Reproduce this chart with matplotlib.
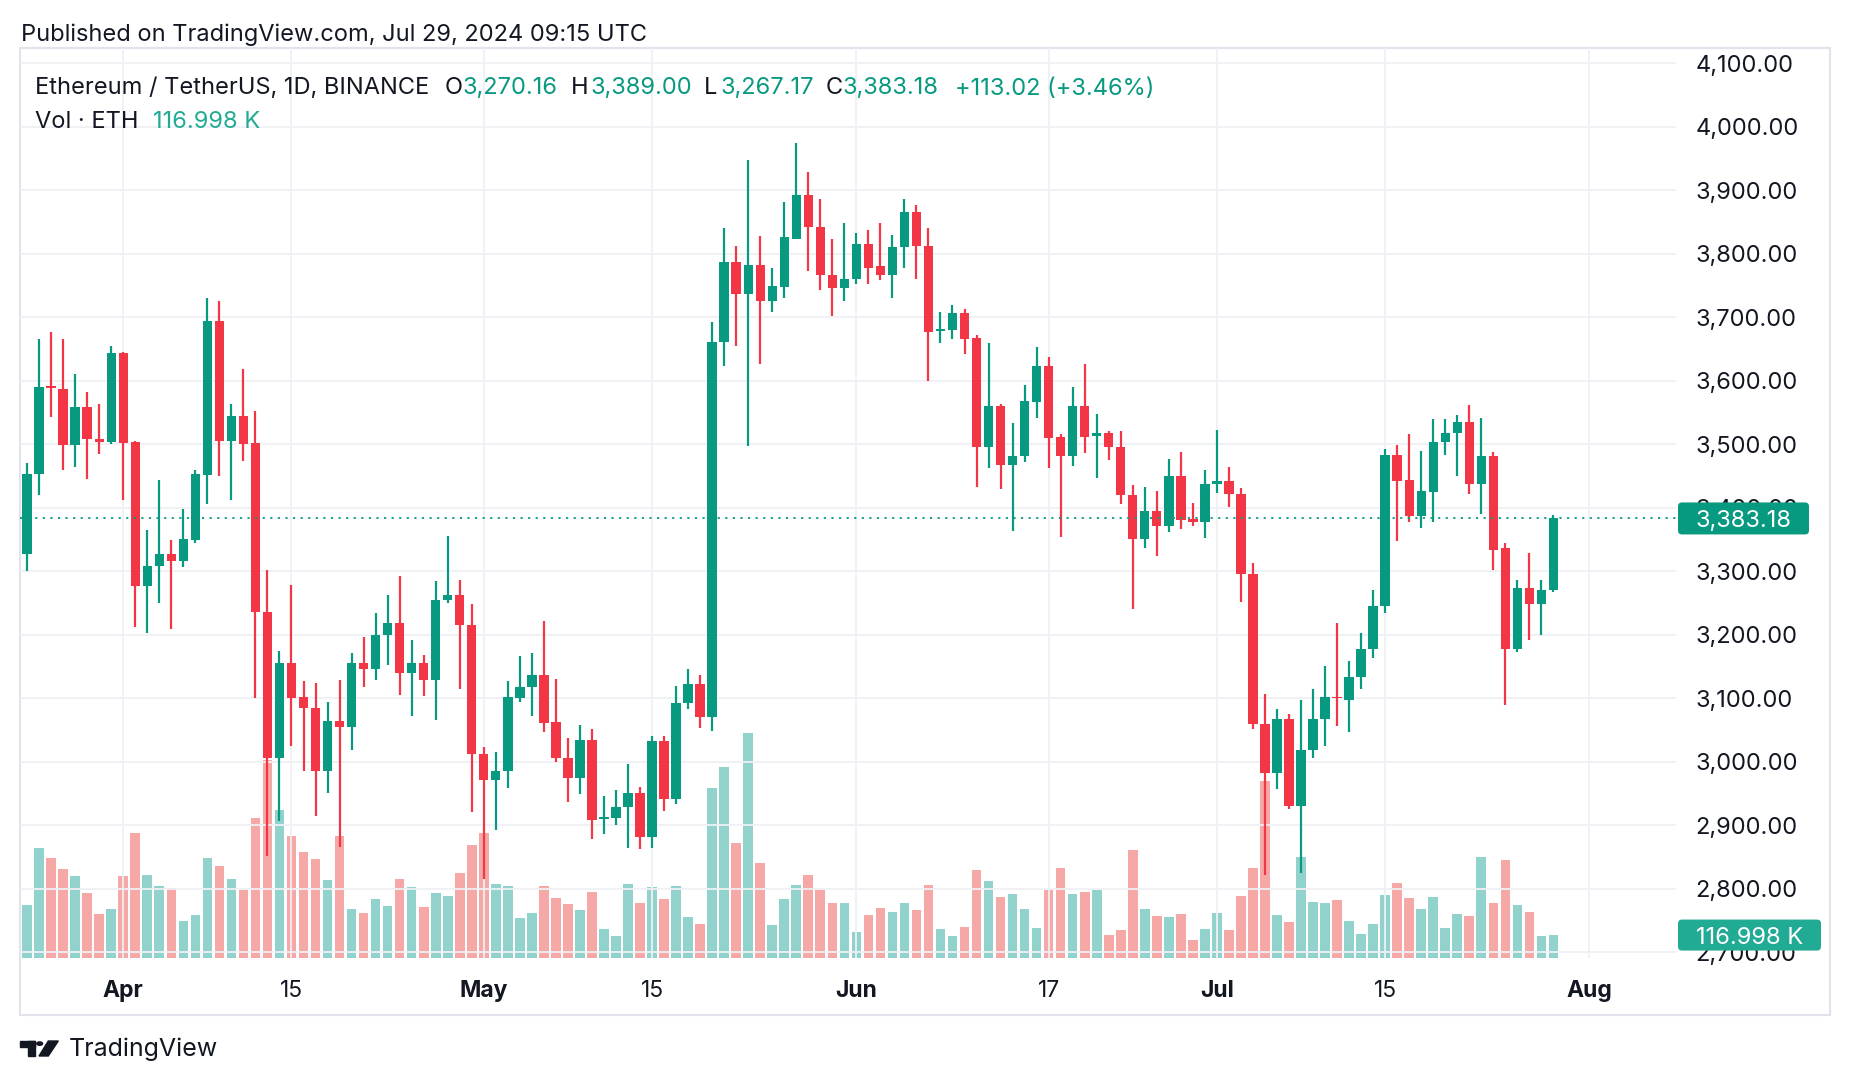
import numpy as np
import pandas as pd
import matplotlib
matplotlib.use("Agg")
import matplotlib.pyplot as plt
from matplotlib.patches import Rectangle, Circle, Polygon, FancyBboxPatch

plt.rcParams['font.family'] = ['Inter', 'DejaVu Sans']

# ------------------------------
# Data: ETHUSDT daily, Mar 24 - Jul 29 2024
# ------------------------------
start_date = "2024-03-24"

opens = [3327, 3453, 3591, 3587, 3499, 3559, 3509, 3503, 3644, 3503,
         3277, 3309, 3327, 3316, 3349, 3452, 3694, 3505, 3545, 3502,
         3236, 3006, 3155, 3102, 3084, 2985, 3064, 3055, 3155, 3146,
         3199, 3218, 3140, 3155, 3129, 3254, 3262, 3216, 3013, 2972,
         2985, 3101, 3117, 3136, 3062, 3006, 2974, 3035, 2910, 2912,
         2929, 2951, 2881, 3032, 2942, 3092, 3123, 3071, 3661, 3787,
         3736, 3783, 3726, 3747, 3824, 3893, 3842, 3766, 3746, 3760,
         3815, 3780, 3766, 3810, 3866, 3812, 3678, 3680, 3706, 3667,
         3496, 3561, 3468, 3482, 3566, 3624, 3512, 3482, 3560, 3513,
         3518, 3495, 3420, 3351, 3395, 3371, 3450, 3382, 3378, 3438,
         3442, 3421, 3296, 3059, 2983, 3068, 2930, 3018, 3067, 3102,
         3098, 3134, 3177, 3246, 3483, 3444, 3387, 3425, 3503, 3517,
         3535, 3438, 3482, 3336, 3177, 3274, 3249, 3270.16]
highs = [3470, 3665, 3677, 3665, 3611, 3583, 3564, 3654, 3645, 3505,
         3365, 3443, 3349, 3398, 3459, 3730, 3726, 3563, 3618, 3552,
         3302, 3174, 3278, 3127, 3124, 3094, 3129, 3171, 3196, 3234,
         3262, 3292, 3191, 3168, 3284, 3356, 3286, 3249, 3023, 3016,
         3127, 3167, 3171, 3221, 3130, 3037, 3058, 3052, 2946, 2955,
         2997, 2960, 3041, 3041, 3119, 3146, 3137, 3693, 3840, 3812,
         3947, 3828, 3778, 3882, 3974, 3929, 3886, 3824, 3849, 3832,
         3838, 3849, 3830, 3886, 3877, 3840, 3709, 3720, 3713, 3672,
         3659, 3563, 3533, 3594, 3653, 3637, 3516, 3590, 3626, 3548,
         3521, 3521, 3436, 3432, 3427, 3477, 3488, 3407, 3460, 3523,
         3464, 3431, 3313, 3107, 3083, 3075, 3097, 3114, 3151, 3218,
         3158, 3202, 3270, 3493, 3499, 3516, 3489, 3540, 3540, 3546,
         3562, 3542, 3488, 3344, 3287, 3329, 3286, 3389.00]
lows = [3300, 3420, 3543, 3459, 3464, 3445, 3484, 3500, 3413, 3212,
        3203, 3250, 3209, 3306, 3345, 3406, 3450, 3412, 3474, 3100,
        2851, 2907, 3025, 2986, 2914, 2951, 2866, 3018, 3117, 3129,
        3152, 3105, 3072, 3103, 3066, 3250, 3115, 2921, 2816, 2893,
        2959, 3094, 3072, 3047, 2999, 2937, 2950, 2879, 2886, 2900,
        2864, 2862, 2864, 2923, 2933, 3083, 3053, 3049, 3624, 3654,
        3498, 3627, 3709, 3730, 3823, 3773, 3743, 3702, 3725, 3753,
        3752, 3758, 3730, 3777, 3760, 3600, 3659, 3666, 3642, 3432,
        3462, 3429, 3363, 3472, 3542, 3463, 3354, 3466, 3486, 3447,
        3475, 3406, 3240, 3337, 3324, 3362, 3366, 3372, 3353, 3423,
        3401, 3251, 3052, 2822, 2957, 2925, 2825, 3006, 3025, 3057,
        3047, 3115, 3164, 3234, 3347, 3377, 3368, 3377, 3483, 3450,
        3422, 3390, 3302, 3089, 3173, 3191, 3200, 3267.17]
closes = [3453, 3590, 3588, 3499, 3559, 3508, 3503, 3644, 3502, 3277,
          3309, 3327, 3316, 3351, 3453, 3694, 3505, 3545, 3500, 3236,
          3006, 3155, 3100, 3084, 2985, 3064, 3055, 3155, 3146, 3199,
          3218, 3140, 3155, 3129, 3254, 3262, 3216, 3013, 2972, 2985,
          3102, 3117, 3136, 3061, 3006, 2974, 3035, 2909, 2913, 2929,
          2951, 2881, 3032, 2942, 3092, 3123, 3071, 3661, 3787, 3736,
          3783, 3726, 3749, 3826, 3893, 3842, 3766, 3746, 3761, 3815,
          3778, 3766, 3810, 3866, 3812, 3677, 3681, 3706, 3666, 3496,
          3561, 3468, 3482, 3568, 3624, 3510, 3482, 3560, 3512, 3518,
          3495, 3420, 3351, 3395, 3371, 3450, 3380, 3378, 3438, 3442,
          3421, 3296, 3059, 2983, 3068, 2930, 3019, 3067, 3102, 3100,
          3134, 3177, 3246, 3483, 3442, 3387, 3427, 3503, 3517, 3535,
          3438, 3482, 3334, 3177, 3274, 3249, 3270.16, 3383.18]
# volume in thousands of ETH
volumes = [269, 561, 508, 454, 417, 331, 223, 249, 417, 636,
           422, 367, 356, 187, 219, 508, 470, 401, 347, 714,
           1010, 755, 622, 540, 504, 397, 622, 249, 228, 301,
           264, 401, 360, 260, 331, 315, 433, 577, 636, 376,
           367, 203, 228, 367, 305, 274, 244, 335, 146, 112,
           376, 280, 360, 301, 367, 207, 173, 865, 973, 584,
           1145, 487, 166, 300, 370, 425, 345, 282, 279, 135,
           218, 257, 237, 279, 243, 370, 146, 110, 160, 447,
           395, 309, 328, 251, 155, 345, 461, 328, 339, 348,
           119, 141, 552, 248, 213, 207, 226, 94, 146, 232,
           141, 317, 461, 905, 221, 185, 513, 287, 279, 298,
           190, 124, 171, 323, 384, 304, 248, 309, 152, 226,
           213, 513, 282, 502, 268, 237, 110, 116.998]

# x axis labels
tick_dates = ["2024-04-01", "2024-04-15", "2024-05-01", "2024-05-15", "2024-06-01",
              "2024-06-17", "2024-07-01", "2024-07-15", "2024-08-01"]
tick_labels = ["Apr", "15", "May", "15", "Jun", "17", "Jul", "15", "Aug"]
month_labels = ["Apr", "May", "Jun", "Jul", "Aug"]

price_ticks = list(range(2700, 4200, 100))

# ------------------------------
# Styling
# ------------------------------
UP = "#089981"
DOWN = "#F23645"
VOL_UP = "#26a69a"
VOL_DOWN = "#ef5350"
TXT = "#131722"
GRID = "#eef0f4"
W, H = 1850, 1086
FS = 17

dates = pd.date_range(start_date, periods=len(closes), freq="D")
x = np.arange(len(closes))
o = np.array(opens); h = np.array(highs); l = np.array(lows); c = np.array(closes)
up = c >= o
tick_pos = [(pd.Timestamp(d) - dates[0]).days for d in tick_dates]

fig = plt.figure(figsize=(W / 100, H / 100), dpi=100)
fig.patch.set_facecolor("white")

# pane in pixels: left 20, right 1676, top 48, bottom 958
pl, pr, pt, pb = 20, 1676, 48, 958
ax = fig.add_axes([pl / W, 1 - pb / H, (pr - pl) / W, (pb - pt) / H])
axv = ax.twinx()
ax.set_zorder(axv.get_zorder() + 1)
ax.patch.set_visible(False)

# ------------------------------
# Volume
# ------------------------------
axv.bar(x, volumes, width=0.8, color=np.where(up, VOL_UP, VOL_DOWN), alpha=0.5, linewidth=0)
axv.set_ylim(0, 4641)
axv.set_yticks([])

# ------------------------------
# Candles
# ------------------------------
cols = np.where(up, UP, DOWN)
ax.vlines(x, l, h, colors=cols, linewidth=1.6, zorder=3)
body_low = np.minimum(o, c)
body_h = np.maximum(np.abs(c - o), 1.8)
ax.bar(x, body_h, bottom=body_low, width=0.78, color=cols, linewidth=0, zorder=4)

ax.set_xlim(-0.59, 137.2)
ax.set_ylim(2691, 4124)

# grid
for p in price_ticks:
    ax.axhline(p, color=GRID, linewidth=1.3, zorder=0)
for tp in tick_pos:
    ax.axvline(tp, color=GRID, linewidth=1.3, zorder=0)

# last price dotted line
last = closes[-1]
ax.axhline(last, color=UP, linewidth=1.3, linestyle=(0, (1.2, 3)), zorder=5)

# axes ticks
ax.yaxis.tick_right()
ax.set_yticks(price_ticks)
ax.set_yticklabels([f"{p:,.2f}" for p in price_ticks])
ax.tick_params(axis="y", length=0, pad=14, labelsize=FS, labelcolor=TXT)
ax.set_xticks(tick_pos)
ax.set_xticklabels(tick_labels)
ax.tick_params(axis="x", length=0, pad=15.5, labelsize=16.5, labelcolor=TXT)
for lab in ax.get_xticklabels():
    if lab.get_text() in month_labels:
        lab.set_fontweight("bold")
for a in (ax, axv):
    for s in a.spines.values():
        s.set_visible(False)
axv.tick_params(axis="x", length=0, labelbottom=False)


# price tags on the scale (box placed at the value's pixel row)
def scale_tag(a, value, text, color, width_px, height_px):
    y_px = a.transData.transform((0, value))[1]
    fig.add_artist(FancyBboxPatch((1678 / W, (y_px - height_px / 2) / H), width_px / W, height_px / H,
                                  boxstyle=f"round,pad=0,rounding_size={4 / W}", mutation_aspect=W / H,
                                  transform=fig.transFigure, fc=color, ec="none", zorder=10))
    fig.text((1678 + width_px / 2) / W, y_px / H, text, ha="center", va="center_baseline",
             fontsize=FS, color="white", zorder=11)


scale_tag(ax, last, f"{last:,.2f}", UP, 131, 32)
scale_tag(axv, volumes[-1], f"{volumes[-1]:.3f} K", "#22ab94", 143, 31)

# outer frame
fig.add_artist(Rectangle((20 / W, 1 - 1015 / H), 1810 / W, 967 / H, transform=fig.transFigure,
                         fill=False, edgecolor="#e0e3eb", linewidth=1.5))


# ------------------------------
# Header texts (baseline positions in pixels)
# ------------------------------
def ftxt(px, py, s, **kw):
    fig.text(px / W, 1 - py / H, s, va="baseline", ha="left", **kw)


ftxt(21, 41.5, "Published on TradingView.com, Jul 29, 2024 09:15 UTC", fontsize=FS, color=TXT)
ftxt(35, 94.5, "Ethereum / TetherUS, 1D, BINANCE", fontsize=FS, color=TXT)
ftxt(445, 94.5, "O", fontsize=FS, color=TXT)
ftxt(463, 94.5, f"{opens[-1]:,.2f}", fontsize=FS, color=UP)
ftxt(571, 94.5, "H", fontsize=FS, color=TXT)
ftxt(590, 94.5, f"{highs[-1]:,.2f}", fontsize=FS, color=UP)
ftxt(704, 94.5, "L", fontsize=FS, color=TXT)
ftxt(720, 94.5, f"{lows[-1]:,.2f}", fontsize=FS, color=UP)
ftxt(826, 94.5, "C", fontsize=FS, color=TXT)
ftxt(843, 94.5, f"{closes[-1]:,.2f}", fontsize=FS, color=UP)
chg = closes[-1] - closes[-2]
ftxt(955, 94.5, f"+{chg:.2f} (+{chg / closes[-2] * 100:.2f}%)", fontsize=FS, color=UP)
ftxt(35, 128.5, "Vol · ETH", fontsize=FS, color=TXT)
ftxt(153, 128.5, f"{volumes[-1]:.3f} K", fontsize=FS, color="#22ab94")

# TradingView logo
fig.add_artist(Rectangle((20 / W, 1 - 1047 / H), 15 / W, 6 / H, transform=fig.transFigure, color=TXT))
fig.add_artist(Rectangle((27.7 / W, 1 - 1056 / H), 7.3 / W, 15 / H, transform=fig.transFigure, color=TXT))
fig.add_artist(Circle((39.7 / W, 1 - 1043.6 / H), 2.9 / W, transform=fig.transFigure, color=TXT))
fig.add_artist(Polygon([(48.3 / W, 1 - 1041 / H), (58.3 / W, 1 - 1041 / H), (48.3 / W, 1 - 1056 / H),
                        (39 / W, 1 - 1056 / H)], transform=fig.transFigure, color=TXT))
ftxt(69, 1056, "TradingView", fontsize=18, color=TXT)

fig.savefig("out.png", dpi=100)
